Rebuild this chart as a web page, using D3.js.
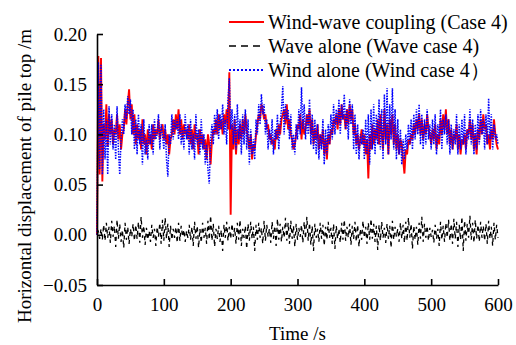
<!DOCTYPE html>
<html>
<head>
<meta charset="utf-8">
<script src="https://cdn.jsdelivr.net/npm/d3@7"></script>
<style>
  body { margin: 0; background: #fff; }
  text { font-family: "Liberation Serif", "Times New Roman", serif; fill: #000; }
</style>
</head>
<body>
<div class="canvas"></div>
<script>
// sample times (s), one sample every 2 s
const timeStep = 2;
const times = d3.range(0, 601, timeStep);

// wind-wave coupling (Case 4), m
const coupling = [
  0, .178, .06, .176, .053, .11, .095, .13, .088, .12,
  .1, .115, .09, .105, .1, .12, .095, .11, .085, .1,
  .105, .125, .11, .13, .145, .115, .13, .1, .12, .09,
  .11, .095, .105, .085, .115, .09, .1, .08, .105, .09,
  .1, .085, .11, .095, .105, .1, .115, .095, .105, .11,
  .095, .105, .09, .1, .08, .095, .1, .115, .1, .12,
  .105, .125, .1, .115, .095, .11, .1, .105, .095, .11,
  .09, .105, .085, .11, .095, .1, .08, .105, .09, .1,
  .085, .095, .075, .1, .09, .07, .095, .105, .1, .115,
  .1, .12, .105, .115, .1, .12, .11, .125, .105, .162,
  .02, .11, .085, .115, .08, .105, .09, .11, .095, .115,
  .1, .12, .105, .095, .085, .1, .075, .09, .085, .1,
  .11, .12, .115, .13, .125, .115, .12, .105, .11, .095,
  .1, .09, .095, .085, .105, .095, .11, .1, .115, .12,
  .125, .11, .13, .105, .115, .1, .095, .085, .09, .1,
  .11, .105, .12, .095, .115, .1, .105, .12, .11, .125,
  .1, .115, .09, .105, .095, .11, .085, .1, .09, .105,
  .08, .095, .075, .1, .09, .105, .1, .115, .11, .12,
  .105, .125, .11, .13, .115, .12, .105, .125, .11, .13,
  .115, .125, .1, .11, .09, .1, .085, .095, .105, .09,
  .1, .08, .095, .056, .1, .085, .11, .09, .105, .095,
  .115, .09, .12, .1, .085, .125, .095, .11, .08, .115,
  .1, .12, .09, .11, .085, .1, .08, .095, .09, .075,
  .061, .085, .08, .095, .09, .1, .095, .11, .1, .115,
  .105, .12, .1, .115, .095, .11, .1, .12, .105, .1,
  .09, .105, .095, .11, .085, .1, .09, .115, .1, .12,
  .105, .125, .1, .115, .09, .105, .085, .1, .095, .11,
  .085, .1, .08, .095, .09, .1, .085, .105, .1, .115,
  .095, .11, .085, .1, .08, .105, .095, .115, .1, .12,
  .105, .11, .09, .1, .085, .105, .095, .115, .1, .09,
  .085
];

// wave alone (Wave case 4), m
const waveAlone = [
  0, .003, -.004, .006, -.005, .01, -.006, .012, -.003, .008,
  -.008, .014, -.002, .009, -.012, .015, -.004, .011, -.007, .005,
  -.013, .012, -.005, .008, -.009, .006, -.002, .011, -.006, .01,
  -.004, .013, -.008, .018, -.003, .009, -.01, .007, -.005, .004,
  -.007, .01, -.003, .006, -.011, .008, -.002, .012, -.009, .015,
  -.006, .017, -.004, .011, -.012, .009, -.005, .006, -.003, .008,
  -.008, .012, -.006, .009, -.002, .005, -.007, .004, -.003, .01,
  -.005, .008, -.011, .013, -.004, .009, -.013, .006, -.008, .012,
  -.003, .007, -.009, .014, -.005, .019, -.006, .011, -.012, .006,
  -.004, .009, -.007, .005, -.016, .01, -.003, .013, -.006, .008,
  -.004, .011, -.002, .007, -.009, .012, -.005, .015, -.011, .006,
  -.003, .009, -.014, .011, -.006, .013, -.004, .008, -.016, .01,
  -.005, .012, -.003, .007, -.009, .014, -.006, .01, -.002, .006,
  -.008, .013, -.004, .009, -.011, .016, -.005, .011, -.007, .008,
  -.003, .017, -.006, .012, -.009, .014, -.004, .009, -.012, .011,
  -.005, .007, -.002, .01, -.008, .013, -.004, .018, -.006, .012,
  -.01, .009, -.016, .011, -.003, .006, -.007, .012, -.004, .01,
  -.011, .008, -.005, .013, -.003, .007, -.009, .011, -.014, .009,
  -.004, .006, -.008, .012, -.005, .015, -.006, .008, -.003, .011,
  -.01, .009, -.004, .013, -.007, .01, -.012, .006, -.005, .014,
  -.003, .008, -.009, .012, -.005, .016, -.004, .011, -.007, .009,
  -.015, .01, -.006, .013, -.003, .007, -.008, .011, -.004, .009,
  -.013, .014, -.005, .008, -.002, .006, -.007, .012, -.004, .01,
  -.008, .013, -.006, .017, -.003, .011, -.014, .009, -.005, .008,
  -.01, .012, -.004, .018, -.007, .011, -.003, .009, -.006, .007,
  -.002, .005, -.008, .01, -.004, .006, -.011, .013, -.005, .009,
  -.007, .012, -.003, .015, -.006, .011, -.009, .016, -.004, .013,
  -.012, .01, -.005, .018, -.016, .014, -.006, .011, -.003, .019,
  -.005, .012, -.008, .015, -.004, .01, -.007, .013, -.003, .009,
  -.006, .011, -.009, .014, -.004, .008, -.011, .012, -.005, .01,
  -.003
];

// wind alone (Wind case 4), m
const windAlone = [
  0, .172, .065, .17, .06, .125, .075, .115, .06, .128,
  .09, .12, .085, .11, .075, .128, .085, .06, .095, .115,
  .1, .13, .115, .138, .12, .135, .1, .125, .085, .115,
  .08, .12, .09, .11, .07, .115, .08, .095, .075, .11,
  .09, .11, .08, .115, .095, .1, .12, .085, .11, .1,
  .085, .11, .075, .058, .1, .09, .12, .095, .115, .105,
  .115, .095, .12, .09, .105, .085, .12, .095, .11, .08,
  .115, .085, .1, .075, .12, .09, .105, .08, .115, .085,
  .1, .07, .09, .065, .051, .095, .11, .09, .12, .1,
  .125, .095, .12, .105, .13, .1, .115, .09, .135, .156,
  .105, .125, .09, .12, .085, .13, .095, .115, .08, .12,
  .09, .125, .085, .115, .07, .105, .08, .095, .075, .115,
  .1, .13, .11, .14, .12, .13, .1, .115, .085, .105,
  .09, .115, .08, .105, .095, .12, .085, .11, .125, .148,
  .1, .13, .115, .125, .095, .12, .085, .1, .08, .11,
  .095, .125, .1, .147, .105, .13, .095, .12, .1, .135,
  .09, .12, .085, .115, .08, .11, .075, .1, .085, .115,
  .07, .105, .08, .11, .09, .12, .095, .13, .1, .125,
  .11, .135, .1, .13, .115, .14, .105, .125, .095, .135,
  .11, .13, .085, .12, .08, .11, .075, .1, .09, .105,
  .075, .115, .08, .12, .07, .125, .085, .13, .08, .12,
  .09, .135, .085, .125, .075, .14, .09, .146, .08, .13,
  .095, .146, .085, .125, .075, .115, .08, .105, .07, .095,
  .075, .1, .085, .11, .09, .115, .085, .12, .095, .125,
  .1, .13, .09, .12, .085, .115, .09, .125, .095, .11,
  .085, .115, .09, .12, .08, .11, .095, .125, .085, .115,
  .1, .12, .09, .115, .08, .11, .085, .105, .09, .12,
  .08, .11, .085, .115, .09, .12, .08, .105, .095, .125,
  .09, .115, .08, .11, .085, .12, .09, .125, .1, .115,
  .085, .12, .09, .136, .095, .12, .085, .11, .095, .1,
  .09
];

const xTicks = [0, 100, 200, 300, 400, 500, 600];
const yTicks = [-0.05, 0, 0.05, 0.1, 0.15, 0.2];

const legendLabels = [
  'Wind-wave coupling (Case 4)',
  'Wave alone (Wave case 4)',
  'Wind alone (Wind case 4\uFF09'
];

const width = 516, height = 345;
const margin = {top: 34, right: 18, bottom: 60, left: 97};
const graphWidth = width - margin.left - margin.right;
const graphHeight = height - margin.top - margin.bottom;

const svg = d3.select('.canvas')
  .append('svg')
  .attr('width', width)
  .attr('height', height);

const graph = svg.append('g')
  .attr('transform', `translate(${margin.left}, ${margin.top})`);

// scales
const x = d3.scaleLinear().domain([0, 600]).range([0, graphWidth]);
const y = d3.scaleLinear().domain([-0.05, 0.2]).range([graphHeight, 0]);

const line = values => d3.line()
  .x((d, i) => x(times[i]))
  .y(d => y(d))(values);

// series
const series = [
  {values: waveAlone, color: '#000', width: 1.3, dash: '4,4'},
  {values: coupling, color: '#ff0000', width: 1.9, dash: null},
  {values: windAlone, color: '#0000ff', width: 1.5, dash: '1.5,1.2'}
];

series.forEach(s => {
  graph.append('path')
    .attr('d', line(s.values))
    .attr('fill', 'none')
    .attr('stroke', s.color)
    .attr('stroke-width', s.width)
    .attr('stroke-dasharray', s.dash);
});

// axes
const xAxis = d3.axisBottom(x)
  .tickValues(xTicks)
  .tickSizeInner(-6)
  .tickSizeOuter(0)
  .tickPadding(13)
  .tickFormat(d3.format('d'));

const yAxis = d3.axisLeft(y)
  .tickValues(yTicks)
  .tickSizeInner(-6)
  .tickSizeOuter(0)
  .tickPadding(10)
  .tickFormat(d3.format('.2f'));

const xAxisGroup = graph.append('g')
  .attr('transform', `translate(0, ${graphHeight})`)
  .call(xAxis);
const yAxisGroup = graph.append('g').call(yAxis);

[xAxisGroup, yAxisGroup].forEach(g => {
  g.selectAll('path, line').attr('stroke', '#000').attr('stroke-width', 1.6);
  g.selectAll('text')
    .attr('font-family', '"Liberation Serif", serif')
    .attr('font-size', 19)
    .attr('fill', '#000');
});

// axis titles
svg.append('text')
  .attr('x', margin.left + graphWidth / 2)
  .attr('y', 340)
  .attr('text-anchor', 'middle')
  .attr('font-size', 19)
  .text('Time /s');

svg.append('text')
  .attr('transform', 'translate(31, 176) rotate(-90)')
  .attr('text-anchor', 'middle')
  .attr('font-size', 19)
  .text('Horizontal displacement of pile top /m');

// legend
const legendOrder = [series[1], series[0], series[2]];
const legend = svg.append('g');
legendOrder.forEach((s, i) => {
  const row = legend.append('g')
    .attr('transform', `translate(229, ${22 + i * 24})`);
  row.append('line')
    .attr('x1', 0).attr('x2', 35)
    .attr('stroke', s.color)
    .attr('stroke-width', i === 1 ? 1.6 : 2)
    .attr('stroke-dasharray', i === 1 ? '7,5' : (i === 2 ? '2,2' : null));
  row.append('text')
    .attr('x', 39)
    .attr('dy', '0.33em')
    .attr('font-size', 20)
    .text(legendLabels[i]);
});
</script>
</body>
</html>
